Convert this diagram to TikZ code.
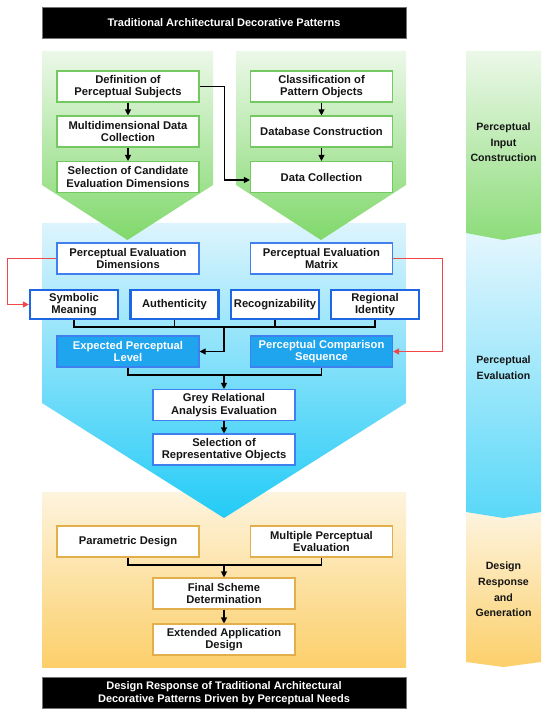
\documentclass[tikz,border=0pt]{standalone}
\usepackage{fontspec}
\setmainfont{Liberation Sans}
\usetikzlibrary{arrows.meta,calc}
\definecolor{gtop}{HTML}{ECF8E9}
\definecolor{gbot}{HTML}{80D86B}
\definecolor{btop}{HTML}{DDF4FD}
\definecolor{bbot}{HTML}{22CBF6}
\definecolor{otop}{HTML}{FDF4DE}
\definecolor{obot}{HTML}{FCCF6A}
\definecolor{gline}{HTML}{74C862}
\definecolor{bline}{HTML}{3F80EE}
\definecolor{tline}{HTML}{1F66E5}
\definecolor{bfill}{HTML}{1EA5EE}
\definecolor{oline}{HTML}{E3AE4C}
\definecolor{redl}{HTML}{F0474A}
\definecolor{txt}{HTML}{151515}
\tikzset{
  boxbase/.style={fill=white, line width=1.1pt, minimum width=142pt, minimum height=31pt,
    inner sep=1pt, align=center, text=txt, font=\bfseries\fontsize{11.2}{12.6}\selectfont},
  gbox/.style={boxbase, draw=gline},
  bbox/.style={boxbase, draw=bline},
  tbox/.style={boxbase, draw=tline, line width=2.2pt, minimum width=88pt, minimum height=29pt},
  fbox/.style={boxbase, draw=bline, fill=bfill, text=white},
  obox/.style={boxbase, draw=oline},
  bar/.style={fill=black, draw=black!55, line width=0.6pt, minimum width=364pt, minimum height=31pt,
    inner sep=0pt, align=center, text=white, font=\bfseries\fontsize{11}{12.6}\selectfont},
  stagetxt/.style={align=center, text=txt, font=\bfseries\fontsize{10.6}{15.6}\selectfont},
  arr/.style={line width=1.1pt, draw=black, -{Triangle[length=6pt,width=6pt]}},
  ln/.style={line width=1.1pt, draw=black},
  redarr/.style={line width=1.1pt, draw=redl, -{Triangle[length=6pt,width=6pt]}, color=redl}
}
\begin{document}
\begin{tikzpicture}[x=1pt,y=-1pt]
\useasboundingbox (0,0) rectangle (550,717);
\fill[white] (0,0) rectangle (550,717);

% stage backgrounds (main)
\shade[top color=otop, bottom color=obot] (42,492) rectangle (406,667);
\shade[top color=btop, bottom color=bbot] (42,223) -- (406,223) -- (406,403) -- (224,518) -- (42,403) -- cycle;
\shade[top color=gtop, bottom color=gbot] (42,51) -- (213,51) -- (213,185) -- (127.5,240) -- (42,185) -- cycle;
\shade[top color=gtop, bottom color=gbot] (236,51) -- (406,51) -- (406,185) -- (321,240) -- (236,185) -- cycle;

% right stage column
\shade[top color=otop, bottom color=obot] (466,512) -- (541,512) -- (541,662) -- (503.5,667) -- (466,662) -- cycle;
\shade[top color=btop!80!white, bottom color=bbot!75!white] (466,233) -- (541,233) -- (541,512) -- (503.5,518) -- (466,512) -- cycle;
\shade[top color=gtop, bottom color=gbot!90!white] (466,51) -- (541,51) -- (541,233) -- (503.5,240) -- (466,233) -- cycle;
\node[stagetxt] (s1) at (503.5,142.5) {Perceptual\\Input\\Construction};
\node[stagetxt] (s2) at (503.5,367.5) {Perceptual\\Evaluation};
\node[stagetxt] (s3) at (503.5,589.5) {Design\\Response\\and\\Generation};

% bars
\node[bar] (top) at (224,22.5) {Traditional Architectural Decorative Patterns};
\node[bar] (bot) at (224,693) {Design Response of Traditional Architectural\\Decorative Patterns Driven by Perceptual Needs};

% green boxes
\node[gbox] (def) at (128,86.5) {Definition of\\Perceptual Subjects};
\node[gbox] (mdc) at (128,131.5) {Multidimensional Data\\Collection};
\node[gbox] (sel) at (128,177) {Selection of Candidate\\Evaluation Dimensions};
\node[gbox] (cls) at (321.5,86.5) {Classification of\\Pattern Objects};
\node[gbox] (dbc) at (321.5,131.5) {Database Construction};
\node[gbox] (dc) at (321.5,177) {Data Collection};

\draw[arr] (def) -- (mdc);
\draw[arr] (mdc) -- (sel);
\draw[arr] (cls) -- (dbc);
\draw[arr] (dbc) -- (dc);
\draw[arr] (def.east) -- ++(24.5,0) |- ($(dc.west)+(0,3)$);

% blue section
\node[bbox] (ped) at (128,258.5) {Perceptual Evaluation\\Dimensions};
\node[bbox] (pem) at (321.5,258.5) {Perceptual Evaluation\\Matrix};
\node[tbox] (sym) at (74,304.5) {Symbolic\\Meaning};
\node[tbox] (aut) at (174.5,304.5) {Authenticity};
\node[tbox] (rec) at (275,304.5) {Recognizability};
\node[tbox] (reg) at (375,304.5) {Regional\\Identity};
\node[fbox] (epl) at (128,351.5) {Expected Perceptual\\Level};
\node[fbox] (pcs) at (321.5,351.5) {Perceptual Comparison\\Sequence};
\node[bbox] (gra) at (224,405) {Grey Relational\\Analysis Evaluation};
\node[bbox] (sro) at (224,449.5) {Selection of\\Representative Objects};

\draw[redarr] (ped.west) -- ++(-49,0) |- (sym.west);
\draw[redarr] (pem.east) -- ++(49,0) |- (pcs.east);

\coordinate (b1) at (224,327);
\draw[ln] (sym.south) |- (b1) -| (reg.south);
\draw[ln] (aut.south) -- (aut.south |- b1);
\draw[ln] (rec.south) -- (rec.south |- b1);
\draw[arr] (b1) |- (epl.east);

\coordinate (b2) at (224,375);
\draw[ln] (epl.south) |- (b2) -| (pcs.south);
\draw[arr] (b2) -- (gra.north);
\draw[arr] (gra) -- (sro);

% orange section
\node[obox] (pd) at (128,541.5) {Parametric Design};
\node[obox] (mpe) at (321.5,541.5) {Multiple Perceptual\\Evaluation};
\node[obox] (fsd) at (224,593.5) {Final Scheme\\Determination};
\node[obox] (ead) at (224,639.5) {Extended Application\\Design};

\coordinate (b3) at (224,565);
\draw[ln] (pd.south) |- (b3) -| (mpe.south);
\draw[arr] (b3) -- (fsd.north);
\draw[arr] (fsd) -- (ead);
\end{tikzpicture}
\end{document}
